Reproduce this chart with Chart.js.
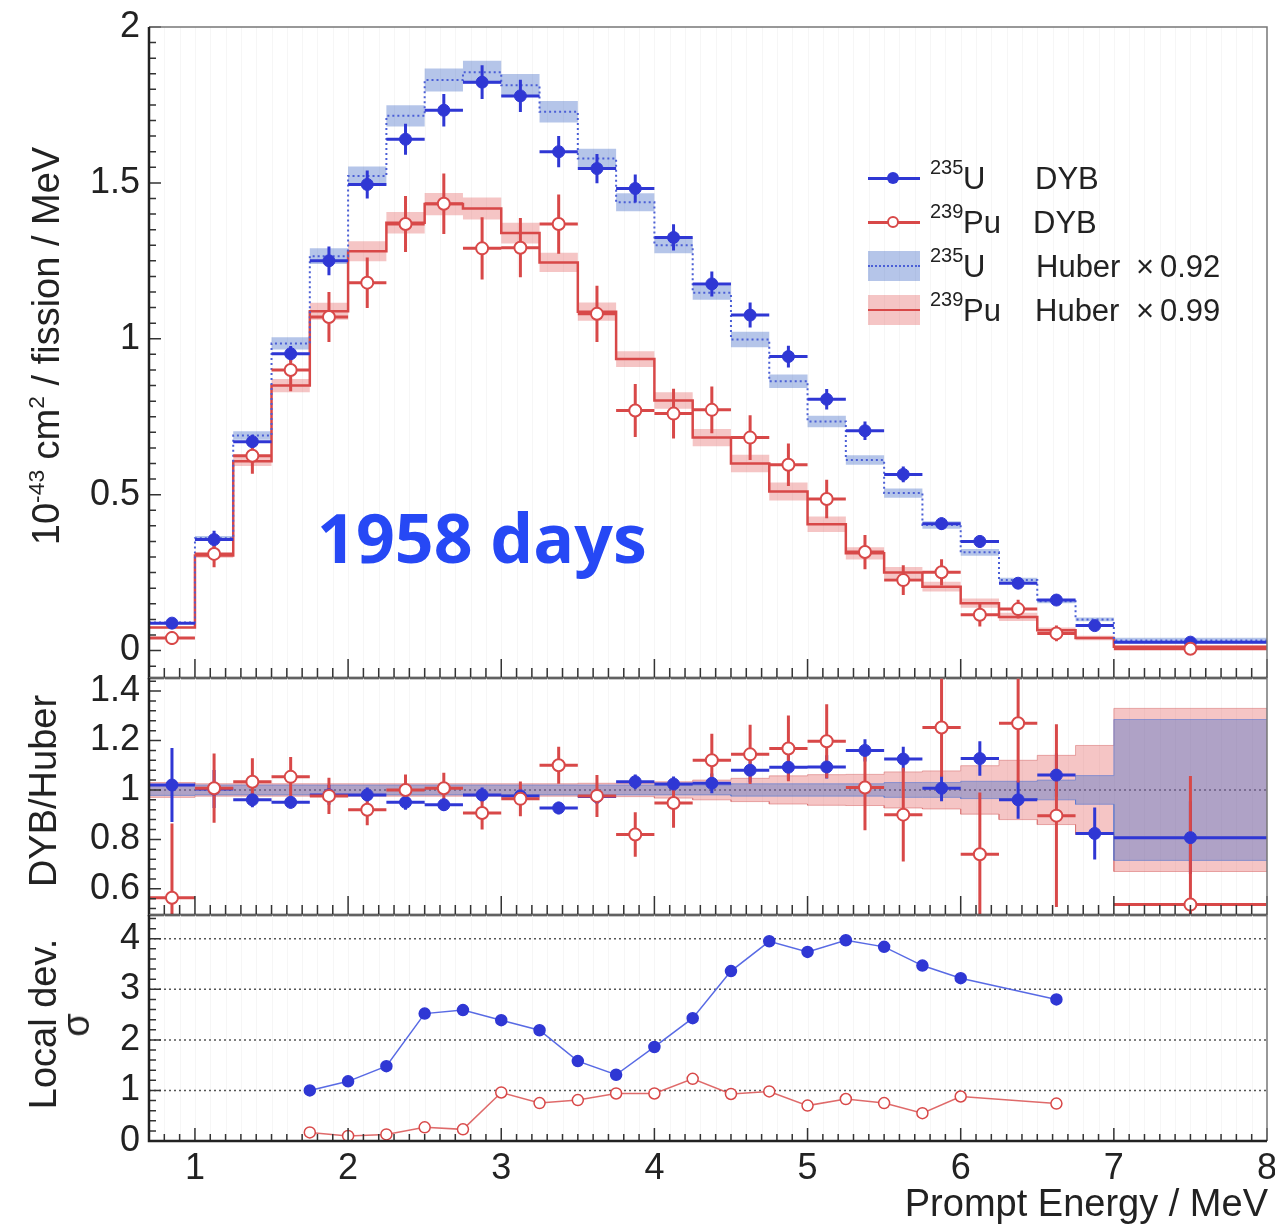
<!DOCTYPE html>
<html>
<head>
<meta charset="utf-8">
<script src="https://cdn.jsdelivr.net/npm/chart.js@4.4.0/dist/chart.umd.min.js"></script>
<style>
  html, body { margin: 0; padding: 0; background: #fff; width: 1275px; height: 1227px; overflow: hidden; }
  body { position: relative; font-family: "Liberation Sans", Arial, sans-serif; color: #222; }
  canvas { position: absolute; left: 0; }
  .t { position: absolute; white-space: nowrap; line-height: 1; }
  .rot { transform: translate(-50%, -50%) rotate(-90deg); font-size: 38px; }
  .sp { font-size: 0.6em; position: relative; top: -0.68em; }
  .lg { position: absolute; }
  .lt { position: absolute; font-size: 31px; line-height: 1; white-space: nowrap; }
  .ls { position: absolute; font-size: 20px; line-height: 1; }
</style>
</head>
<body>
<canvas id="cTop" width="1300" height="700" style="top:0"></canvas>
<canvas id="cMid" width="1300" height="285" style="top:650px"></canvas>
<canvas id="cBot" width="1300" height="332" style="top:895px"></canvas>

<!-- axis titles -->
<div class="t rot" style="left:46px;top:346px">10<span class="sp">-43</span> cm<span class="sp">2</span> / fission / MeV</div>
<div class="t rot" style="left:43px;top:791px">DYB/Huber</div>
<div class="t rot" style="left:43px;top:1024px">Local dev.</div>
<div class="t rot" style="left:76px;top:1025px">σ</div>
<div class="t" style="right:7px;top:1184px;font-size:38px">Prompt Energy / MeV</div>

<div class="t" style="left:317px;top:503px;font-family:'Open Sans',sans-serif;font-weight:700;font-size:68px;color:#2648f5">1958 days</div>

<!-- legend -->
<div class="lg" style="left:868px;top:176.5px;width:52px;height:3px;background:#2f37d4"></div>
<div class="lg" style="left:887px;top:172px;width:12px;height:12px;border-radius:50%;background:#2f37d4"></div>
<span class="ls" style="left:930px;top:157px">235</span>
<span class="lt" style="left:963px;top:163px">U</span>
<span class="lt" style="left:1035px;top:163px">DYB</span>

<div class="lg" style="left:868px;top:220.5px;width:52px;height:3px;background:#d84848"></div>
<div class="lg" style="left:887px;top:216px;width:12px;height:12px;border-radius:50%;background:#fff;border:2px solid #d84848;box-sizing:border-box"></div>
<span class="ls" style="left:930px;top:201px">239</span>
<span class="lt" style="left:963px;top:207px">Pu</span>
<span class="lt" style="left:1033px;top:207px">DYB</span>

<div class="lg" style="left:868px;top:251px;width:52px;height:30px;background:rgba(70,110,200,0.40)"></div>
<div class="lg" style="left:868px;top:265px;width:52px;height:0;border-top:2px dotted #4b5fd6"></div>
<span class="ls" style="left:930px;top:245px">235</span>
<span class="lt" style="left:963px;top:251px">U</span>
<span class="lt" style="left:1036px;top:251px">Huber</span>
<span class="lt" style="left:1136px;top:251px">×</span>
<span class="lt" style="left:1160px;top:251px">0.92</span>

<div class="lg" style="left:868px;top:295px;width:52px;height:30px;background:rgba(225,80,80,0.33)"></div>
<div class="lg" style="left:868px;top:309px;width:52px;height:2px;background:#d84848"></div>
<span class="ls" style="left:930px;top:289px">239</span>
<span class="lt" style="left:963px;top:295px">Pu</span>
<span class="lt" style="left:1035px;top:295px">Huber</span>
<span class="lt" style="left:1136px;top:295px">×</span>
<span class="lt" style="left:1160px;top:295px">0.99</span>

<script>
// bin edges of the prompt energy histogram (MeV)
const EDGES = [0.7, 1, 1.25, 1.5, 1.75, 2, 2.25, 2.5, 2.75, 3, 3.25, 3.5, 3.75, 4,
  4.25, 4.5, 4.75, 5, 5.25, 5.5, 5.75, 6, 6.25, 6.5, 6.75, 7, 8];

// top panel: spectra (1e-43 cm2 / fission / MeV)
const uDyb = [0.088, 0.356, 0.67, 0.952, 1.25, 1.495, 1.64, 1.733, 1.823, 1.779, 1.60, 1.546, 1.482,
  1.325, 1.176, 1.076, 0.943, 0.806, 0.705, 0.565, 0.407, 0.35, 0.216, 0.162, 0.08, 0.027];
const uDybErr = [0.014, 0.028, 0.022, 0.025, 0.046, 0.045, 0.05, 0.052, 0.054, 0.052, 0.05, 0.047, 0.045,
  0.042, 0.04, 0.04, 0.035, 0.033, 0.03, 0.025, 0.02, 0.02, 0.016, 0.013, 0.011, 0.006];
const puDyb = [0.04, 0.31, 0.625, 0.9, 1.07, 1.18, 1.368, 1.433, 1.29, 1.292, 1.368, 1.08, 0.77,
  0.76, 0.772, 0.683, 0.596, 0.486, 0.316, 0.226, 0.251, 0.115, 0.133, 0.055, null, 0.006];
const puDybErr = [0.022, 0.043, 0.058, 0.068, 0.08, 0.081, 0.09, 0.097, 0.1, 0.095, 0.095, 0.09, 0.085,
  0.08, 0.075, 0.072, 0.068, 0.062, 0.055, 0.048, 0.042, 0.038, 0.03, 0.025, null, 0.012];
const uHuber = [0.09, 0.36, 0.69, 0.985, 1.265, 1.522, 1.715, 1.83, 1.855, 1.813, 1.728, 1.578, 1.438,
  1.3, 1.148, 0.998, 0.864, 0.735, 0.611, 0.505, 0.403, 0.315, 0.226, 0.158, 0.1, 0.032];
const puHuber = [0.074, 0.305, 0.607, 0.85, 1.088, 1.281, 1.372, 1.432, 1.418, 1.339, 1.245, 1.087, 0.935,
  0.802, 0.683, 0.6, 0.51, 0.405, 0.312, 0.25, 0.205, 0.152, 0.108, 0.065, 0.04, 0.012];
// relative half width of the Huber uncertainty bands
const uBand = [0.022, 0.02, 0.02, 0.02, 0.02, 0.02, 0.02, 0.02, 0.02, 0.02, 0.02, 0.02, 0.02,
  0.02, 0.02, 0.025, 0.025, 0.025, 0.025, 0.03, 0.03, 0.035, 0.035, 0.04, 0.058, 0.285];
const puBand = [0.03, 0.025, 0.025, 0.025, 0.025, 0.025, 0.025, 0.025, 0.025, 0.025, 0.025, 0.027, 0.027,
  0.033, 0.04, 0.047, 0.057, 0.062, 0.063, 0.073, 0.077, 0.098, 0.12, 0.14, 0.18, 0.33];

// middle panel: DYB / Huber
const uRatio = [1.02, 1.004, 0.96, 0.95, 0.98, 0.98, 0.95, 0.94, 0.98, 0.976, 0.927, 0.973, 1.033,
  1.024, 1.027, 1.08, 1.092, 1.093, 1.16, 1.125, 1.007, 1.127, 0.96, 1.06, 0.824, 0.807];
const uRatioErr = [0.15, 0.077, 0.03, 0.025, 0.04, 0.03, 0.03, 0.025, 0.03, 0.03, 0.025, 0.03, 0.03,
  0.03, 0.04, 0.05, 0.05, 0.047, 0.045, 0.05, 0.053, 0.07, 0.077, 0.088, 0.105, 0.147];
const puRatio = [0.564, 1.007, 1.033, 1.053, 0.976, 0.92, 1.0, 1.007, 0.907, 0.964, 1.1, 0.976, 0.82,
  0.947, 1.12, 1.144, 1.168, 1.197, 1.01, 0.90, 1.253, 0.74, 1.27, 0.896, null, 0.536];
const puRatioErr = [0.3, 0.14, 0.095, 0.08, 0.073, 0.063, 0.063, 0.063, 0.067, 0.07, 0.075, 0.085, 0.09,
  0.1, 0.107, 0.12, 0.133, 0.15, 0.173, 0.19, 0.2, 0.25, 0.24, 0.37, null, 0.52];

// bottom panel: local deviation (sigma)
const devX = [1.75, 2, 2.25, 2.5, 2.75, 3, 3.25, 3.5, 3.75, 4, 4.25, 4.5, 4.75, 5, 5.25, 5.5, 5.75, 6, 6.625];
const uDev = [1.0, 1.18, 1.48, 2.52, 2.59, 2.39, 2.19, 1.58, 1.31, 1.86, 2.43, 3.36, 3.95, 3.74, 3.97, 3.84, 3.47, 3.22, 2.80];
const puDev = [0.17, 0.10, 0.13, 0.27, 0.23, 0.96, 0.75, 0.81, 0.94, 0.94, 1.23, 0.93, 0.98, 0.70, 0.83, 0.75, 0.55, 0.88, 0.74];

const xTicks = [1, 2, 3, 4, 5, 6, 7, 8];
const topTicks = [0, 0.5, 1, 1.5, 2];
const midTicks = [0.6, 0.8, 1, 1.2, 1.4];
const botTicks = [0, 1, 2, 3, 4];

const C_U = '#2f37d4';
const C_PU = '#d84848';
const U_BAND = 'rgba(70,110,200,0.40)';
const PU_BAND = 'rgba(225,80,80,0.33)';
const FONT = { family: 'Liberation Sans', size: 36 };

// helpers: histogram steps, error crosses, markers
function steps(vals) {
  const pts = [];
  vals.forEach((v, i) => {
    if (v == null) { pts.push({ x: EDGES[i], y: null }); return; }
    pts.push({ x: EDGES[i], y: v }, { x: EDGES[i + 1], y: v });
  });
  return pts;
}
function crosses(vals, errs) {
  const pts = [];
  vals.forEach((v, i) => {
    if (v == null) return;
    const c = (EDGES[i] + EDGES[i + 1]) / 2;
    pts.push({ x: c, y: v - errs[i] }, { x: c, y: v + errs[i] }, { x: c, y: null });
    pts.push({ x: EDGES[i], y: v }, { x: EDGES[i + 1], y: v }, { x: EDGES[i + 1], y: null });
  });
  return pts;
}
function marks(vals) {
  const pts = [];
  vals.forEach((v, i) => { if (v != null) pts.push({ x: (EDGES[i] + EDGES[i + 1]) / 2, y: v }); });
  return pts;
}
function band(base, rel, edge, color, order) {
  const up = base.map((v, i) => v * (1 + rel[i]));
  const lo = base.map((v, i) => v * (1 - rel[i]));
  const line = edge ? { borderColor: edge, borderWidth: 1 } : { borderColor: 'transparent', borderWidth: 0 };
  return [
    Object.assign({ data: steps(up), pointRadius: 0, fill: '+1', backgroundColor: color, order }, line),
    Object.assign({ data: steps(lo), pointRadius: 0, fill: false, order }, line)
  ];
}
function errDs(vals, errs, color, order) {
  return { data: crosses(vals, errs), borderColor: color, borderWidth: 3, pointRadius: 0, fill: false, order };
}
function markDs(vals, color, open, order) {
  return {
    data: marks(vals), showLine: false, pointRadius: 6, order,
    pointBackgroundColor: open ? '#fff' : color, pointBorderColor: color, pointBorderWidth: open ? 2 : 1
  };
}

// ROOT-like frame, inner ticks, faint grid and dotted reference lines
const rootAxes = {
  id: 'rootAxes',
  beforeDatasetsDraw(chart, args, o) {
    const { ctx, chartArea: a, scales: { x, y } } = chart;
    ctx.save();
    ctx.lineWidth = 1;
    ctx.strokeStyle = '#f6f6f6';
    ctx.beginPath();
    for (let k = 8; k < 80; k++) {
      const px = Math.round(x.getPixelForValue(k / 10)) + 0.5;
      ctx.moveTo(px, a.top); ctx.lineTo(px, a.bottom);
    }
    ctx.stroke();
    ctx.strokeStyle = '#555'; ctx.lineWidth = 1.5; ctx.setLineDash([2, 3]);
    (o.dotted || []).forEach(v => {
      const py = y.getPixelForValue(v);
      ctx.beginPath(); ctx.moveTo(a.left, py); ctx.lineTo(a.right, py); ctx.stroke();
    });
    ctx.restore();
  },
  afterDraw(chart, args, o) {
    const { ctx, chartArea: a, scales: { x, y } } = chart;
    ctx.save();
    ctx.strokeStyle = '#333'; ctx.lineWidth = 1.5;
    ctx.beginPath();
    for (let k = 7; k <= 80; k++) {
      const px = x.getPixelForValue(k / 10);
      const len = k % 10 === 0 ? o.xMaj : o.xMin;
      ctx.moveTo(px, a.bottom); ctx.lineTo(px, a.bottom - len);
    }
    const n0 = Math.ceil(y.min / o.yStep - 1e-6), n1 = Math.floor(y.max / o.yStep + 1e-6);
    for (let k = n0; k <= n1; k++) {
      const v = k * o.yStep;
      const major = o.yMajor.some(m => Math.abs(m - v) < 1e-6);
      const py = y.getPixelForValue(v);
      ctx.moveTo(a.left, py); ctx.lineTo(a.left + (major ? 12 : 7), py);
    }
    ctx.stroke();
    ctx.strokeStyle = '#777'; ctx.lineWidth = 1.5;
    ctx.beginPath(); ctx.moveTo(a.left, a.top); ctx.lineTo(a.right, a.top); ctx.lineTo(a.right, a.bottom); ctx.stroke();
    ctx.strokeStyle = '#222'; ctx.lineWidth = 2.5;
    ctx.beginPath(); ctx.moveTo(a.left, a.top); ctx.lineTo(a.left, a.bottom); ctx.lineTo(a.right, a.bottom); ctx.stroke();
    ctx.restore();
  }
};

function makeChart(id, datasets, cfg) {
  return new Chart(document.getElementById(id), {
    type: 'line',
    data: { datasets },
    plugins: [rootAxes],
    options: {
      responsive: false, devicePixelRatio: 1, animation: false, events: [],
      layout: { padding: { left: 0, right: 33, top: cfg.padTop, bottom: 0 } },
      plugins: { legend: { display: false }, tooltip: { enabled: false }, rootAxes: cfg.axes },
      scales: {
        x: {
          type: 'linear', min: 0.7, max: 8,
          afterBuildTicks: s => { s.ticks = xTicks.map(v => ({ value: v })); },
          afterFit: s => { s.height = cfg.xHeight; s.paddingLeft = 0; s.paddingRight = 0; },
          ticks: { display: cfg.xLabels, font: FONT, color: '#222', padding: 6, maxRotation: 0, autoSkip: false, callback: v => String(v) },
          grid: { display: false, drawTicks: false }, border: { display: false }
        },
        y: {
          type: 'linear', min: cfg.yMin, max: cfg.yMax,
          afterBuildTicks: s => { s.ticks = cfg.yTicks.map(v => ({ value: v })); },
          afterFit: s => { s.width = 149; s.paddingTop = 0; s.paddingBottom = 0; },
          ticks: { font: FONT, color: '#222', padding: 9, autoSkip: false, callback: v => String(v) },
          grid: { display: false, drawTicks: false }, border: { display: false }
        }
      }
    }
  });
}

// top: spectra
makeChart('cTop', [
  ...band(puHuber, puBand, null, PU_BAND, 12),
  ...band(uHuber, uBand, null, U_BAND, 11),
  { data: steps(puHuber), borderColor: C_PU, borderWidth: 2.5, pointRadius: 0, fill: false, order: 9 },
  { data: steps(uHuber), borderColor: '#4b5fd6', borderWidth: 2, borderDash: [2, 3], pointRadius: 0, fill: false, order: 8 },
  errDs(uDyb, uDybErr, C_U, 5),
  errDs(puDyb, puDybErr, C_PU, 4),
  markDs(uDyb, C_U, false, 3),
  markDs(puDyb, C_PU, true, 2)
], { padTop: 27, xHeight: 22, xLabels: false, yMin: -0.088, yMax: 2.0, yTicks: topTicks,
     axes: { xMaj: 19, xMin: 10, yStep: 0.05, yMajor: topTicks } });

// middle: ratio to Huber
const ones = EDGES.slice(1).map(() => 1);
makeChart('cMid', [
  ...band(ones, puBand, 'rgba(215,110,110,0.55)', PU_BAND, 12),
  ...band(ones, uBand, 'rgba(90,120,210,0.6)', U_BAND, 11),
  errDs(uRatio, uRatioErr, C_U, 5),
  errDs(puRatio, puRatioErr, C_PU, 4),
  markDs(uRatio, C_U, false, 3),
  markDs(puRatio, C_PU, true, 2)
], { padTop: 28, xHeight: 20, xLabels: false, yMin: 0.494, yMax: 1.453, yTicks: midTicks,
     axes: { xMaj: 19, xMin: 10, yStep: 0.04, yMajor: midTicks, dotted: [1] } });

// bottom: local deviation
makeChart('cBot', [
  { data: devX.map((x, i) => ({ x, y: uDev[i] })), borderColor: 'rgba(70,90,225,0.9)', borderWidth: 1.5,
    pointRadius: 5.5, pointBackgroundColor: C_U, pointBorderColor: C_U, fill: false, order: 2 },
  { data: devX.map((x, i) => ({ x, y: puDev[i] })), borderColor: 'rgba(220,90,90,0.9)', borderWidth: 1.5,
    pointRadius: 5.5, pointBackgroundColor: '#fff', pointBorderColor: C_PU, pointBorderWidth: 1.5, fill: false, order: 1 }
], { padTop: 20, xHeight: 86, xLabels: true, yMin: 0, yMax: 4.47, yTicks: botTicks,
     axes: { xMaj: 13, xMin: 7, yStep: 0.2, yMajor: botTicks, dotted: [1, 2, 3, 4] } });
</script>
</body>
</html>
